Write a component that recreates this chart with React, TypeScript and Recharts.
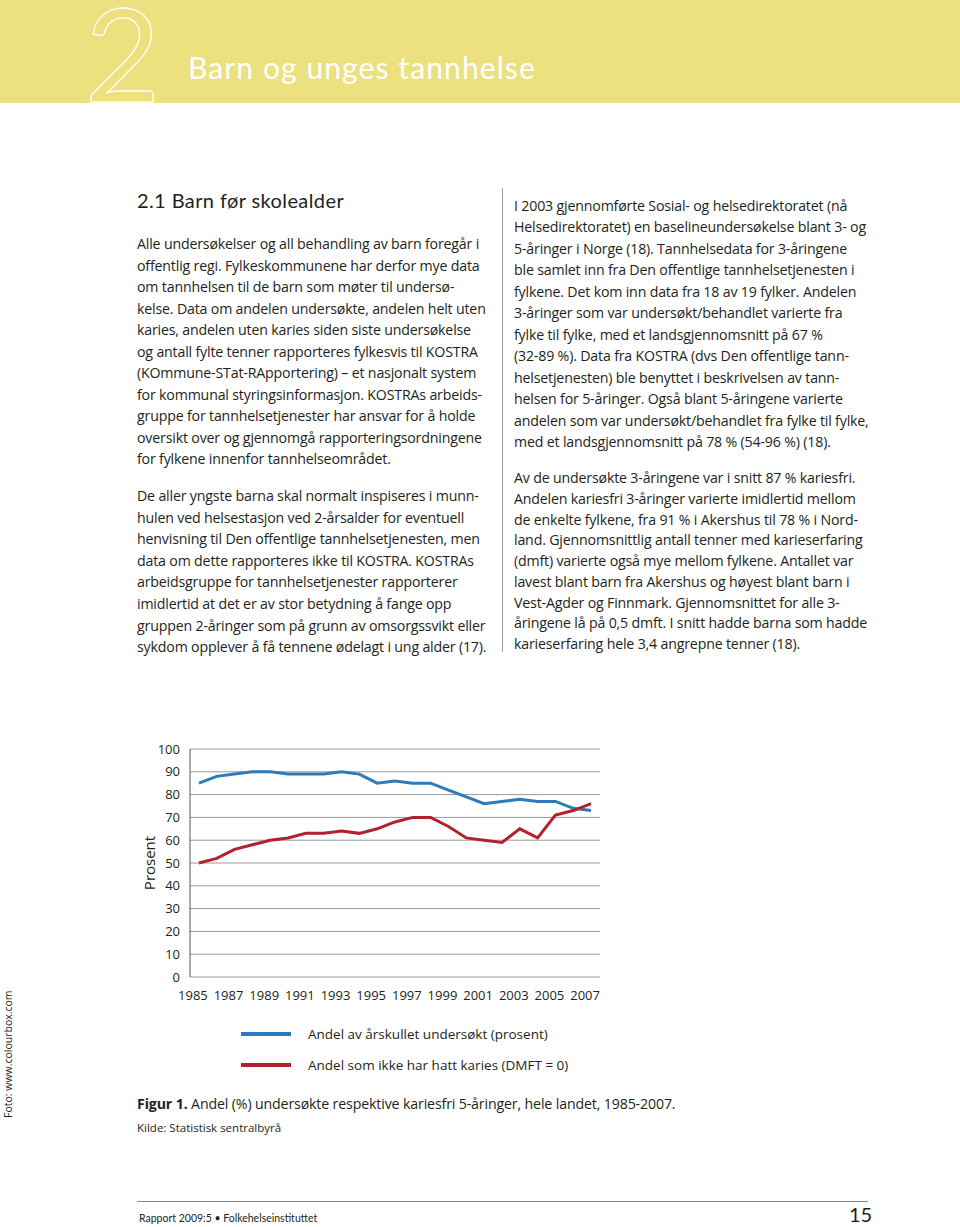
import React from "react";
import { LineChart, Line, XAxis, YAxis, CartesianGrid, Legend } from "recharts";

// Figur 1: Andel (%) undersøkte respektive kariesfri 5-åringer, 1985-2007
const years = [
  1985, 1986, 1987, 1988, 1989, 1990, 1991, 1992, 1993, 1994, 1995, 1996,
  1997, 1998, 1999, 2000, 2001, 2002, 2003, 2004, 2005, 2006, 2007,
];
const examined = [85, 88, 89, 90, 90, 89, 89, 89, 90, 89, 85, 86, 85, 85, 82, 79, 76, 77, 78, 77, 77, 74, 73];
const cariesFree = [50, 52, 56, 58, 60, 61, 63, 63, 64, 63, 65, 68, 70, 70, 66, 61, 60, 59, 65, 61, 71, 73, 76];
const yTicks = [0, 10, 20, 30, 40, 50, 60, 70, 80, 90, 100];
const yearLabels = [1985, 1987, 1989, 1991, 1993, 1995, 1997, 1999, 2001, 2003, 2005, 2007];
const seriesNames = ["Andel av årskullet undersøkt (prosent)", "Andel som ikke har hatt karies (DMFT = 0)"];

const BLUE = "#2b7bbf";
const RED = "#b3202e";
const TEXT = "#231f20";
const BODY = "'Open Sans', 'Noto Sans', sans-serif";
const DISPLAY = "Lato, 'DejaVu Sans', sans-serif";

const leftPara1 = [
  "Alle undersøkelser og all behandling av barn foregår i",
  "offentlig regi. Fylkeskommunene har derfor mye data",
  "om tannhelsen til de barn som møter til undersø-",
  "kelse. Data om andelen undersøkte, andelen helt uten",
  "karies, andelen uten karies siden siste undersøkelse",
  "og antall fylte tenner rapporteres fylkesvis til KOSTRA",
  "(KOmmune-STat-RApportering) – et nasjonalt system",
  "for kommunal styringsinformasjon. KOSTRAs arbeids-",
  "gruppe for tannhelsetjenester har ansvar for å holde",
  "oversikt over og gjennomgå rapporteringsordningene",
  "for fylkene innenfor tannhelseområdet.",
];
const leftPara2 = [
  "De aller yngste barna skal normalt inspiseres i munn-",
  "hulen ved helsestasjon ved 2-årsalder for eventuell",
  "henvisning til Den offentlige tannhelsetjenesten, men",
  "data om dette rapporteres ikke til KOSTRA. KOSTRAs",
  "arbeidsgruppe for tannhelsetjenester rapporterer",
  "imidlertid at det er av stor betydning å fange opp",
  "gruppen 2-åringer som på grunn av omsorgssvikt eller",
  "sykdom opplever å få tennene ødelagt i ung alder (17).",
];
const rightPara1 = [
  "I 2003 gjennomførte Sosial- og helsedirektoratet (nå",
  "Helsedirektoratet) en baselineundersøkelse blant 3- og",
  "5-åringer i Norge (18). Tannhelsedata for 3-åringene",
  "ble samlet inn fra Den offentlige tannhelsetjenesten i",
  "fylkene. Det kom inn data fra 18 av 19 fylker. Andelen",
  "3-åringer som var undersøkt/behandlet varierte fra",
  "fylke til fylke, med et landsgjennomsnitt på 67 %",
  "(32-89 %). Data fra KOSTRA (dvs Den offentlige tann-",
  "helsetjenesten) ble benyttet i beskrivelsen av tann-",
  "helsen for 5-åringer. Også blant 5-åringene varierte",
  "andelen som var undersøkt/behandlet fra fylke til fylke,",
  "med et landsgjennomsnitt på 78 % (54-96 %) (18).",
];
const rightPara2 = [
  "Av de undersøkte 3-åringene var i snitt 87 % kariesfri.",
  "Andelen kariesfri 3-åringer varierte imidlertid mellom",
  "de enkelte fylkene, fra 91 % i Akershus til 78 % i Nord-",
  "land. Gjennomsnittlig antall tenner med karieserfaring",
  "(dmft) varierte også mye mellom fylkene. Antallet var",
  "lavest blant barn fra Akershus og høyest blant barn i",
  "Vest-Agder og Finnmark. Gjennomsnittet for alle 3-",
  "åringene lå på 0,5 dmft. I snitt hadde barna som hadde",
  "karieserfaring hele 3,4 angrepne tenner (18).",
];

function Para({ lines, left, top, lh }: { lines: string[]; left: number; top: number; lh: number }) {
  return (
    <div style={{ position: "absolute", left, top, fontFamily: BODY, fontSize: 14.2, lineHeight: `${lh}px`, color: TEXT, whiteSpace: "nowrap", letterSpacing: -0.18 }}>
      {lines.map((l, i) => (
        <div key={i}>{l}</div>
      ))}
    </div>
  );
}

function LegendBox() {
  const colors = [BLUE, RED];
  return (
    <div style={{ fontFamily: BODY, fontSize: 13.5, color: TEXT }}>
      {seriesNames.map((n, i) => (
        <div key={n} style={{ display: "flex", alignItems: "center", height: 31 }}>
          <div style={{ width: 50, height: 4, background: colors[i], marginRight: 17 }} />
          <span style={{ whiteSpace: "nowrap" }}>{n}</span>
        </div>
      ))}
    </div>
  );
}

const tickMarks = [1984.5, ...years.map((y) => y + 0.5)];

export default function App() {
  const data = years.map((y, i) => ({ year: y, examined: examined[i], cariesFree: cariesFree[i] }));

  return (
    <div style={{ position: "absolute", left: 0, top: 0, width: 960, height: 1227, background: "#fff", overflow: "hidden" }}>
      {/* header band */}
      <div style={{ position: "absolute", left: 0, top: 0, width: 960, height: 103, background: "#ece17e" }} />
      <svg style={{ position: "absolute", left: 0, top: 0 }} width={200} height={106}>
        <text x={85} y={102} fontFamily={DISPLAY} fontSize={130} fill="none" stroke="#fff" strokeWidth={1.3}>
          2
        </text>
      </svg>
      <div style={{ position: "absolute", left: 188, top: 49, fontFamily: DISPLAY, fontSize: 30, color: "#fff", letterSpacing: 1.1 }}>
        Barn og unges tannhelse
      </div>

      <div style={{ position: "absolute", left: 137, top: 188, fontFamily: DISPLAY, fontSize: 20, color: TEXT, letterSpacing: 0.4 }}>
        2.1 Barn før skolealder
      </div>

      <Para lines={leftPara1} left={137} top={233} lh={21.5} />
      <Para lines={leftPara2} left={137} top={485} lh={21.6} />
      <Para lines={rightPara1} left={514} top={195} lh={21.45} />
      <Para lines={rightPara2} left={514} top={468} lh={20.75} />
      <div style={{ position: "absolute", left: 502, top: 188, width: 1, height: 464, background: "#9a9a9a" }} />

      {/* chart */}
      <div style={{ position: "absolute", left: 130, top: 740 }}>
        <LineChart width={480} height={345} data={data} margin={{ top: 9, right: 10, bottom: 78, left: 0 }}>
          <CartesianGrid horizontal vertical={false} stroke="#9a9a9a" strokeWidth={1} />
          <XAxis
            dataKey="year"
            type="number"
            domain={[1984.5, 2007.5]}
            ticks={tickMarks}
            tickFormatter={() => ""}
            height={0}
            mirror
            tickSize={8}
            tickLine={{ stroke: "#555" }}
            axisLine={{ stroke: "#555" }}
            interval={0}
          />
          <XAxis
            xAxisId="lab"
            dataKey="year"
            type="number"
            domain={[1984.5, 2007.5]}
            ticks={yearLabels}
            height={30}
            axisLine={false}
            tickLine={false}
            interval={0}
            tick={{ fontSize: 13, fill: TEXT, fontFamily: BODY, dx: -6, dy: 6 }}
          />
          <YAxis
            width={60}
            domain={[0, 100]}
            ticks={yTicks}
            interval={0}
            tickLine={false}
            axisLine={{ stroke: "#555" }}
            tick={{ fontSize: 13, fill: TEXT, fontFamily: BODY }}
            tickMargin={4}
            label={{ value: "Prosent", angle: -90, position: "center", dx: -10, style: { fontSize: 15, fill: TEXT, fontFamily: BODY } }}
          />
          <Line type="linear" dataKey="examined" name={seriesNames[0]} stroke={BLUE} strokeWidth={3} dot={false} isAnimationActive={false} />
          <Line type="linear" dataKey="cariesFree" name={seriesNames[1]} stroke={RED} strokeWidth={3} dot={false} isAnimationActive={false} />
          <Legend
            layout="vertical"
            align="center"
            verticalAlign="middle"
            content={() => <LegendBox />}
            wrapperStyle={{ top: 278, left: 111, width: 360 }}
          />
        </LineChart>
      </div>

      <div style={{ position: "absolute", left: 137, top: 1094, fontFamily: BODY, fontSize: 14.2, color: TEXT, whiteSpace: "nowrap", letterSpacing: -0.15 }}>
        <b>Figur 1.</b> Andel (%) undersøkte respektive kariesfri 5-åringer, hele landet, 1985-2007.
      </div>
      <div style={{ position: "absolute", left: 137, top: 1120, fontFamily: BODY, fontSize: 11.5, color: TEXT, whiteSpace: "nowrap" }}>
        Kilde: Statistisk sentralbyrå
      </div>

      <div
        style={{ position: "absolute", left: 1, top: 1118, transformOrigin: "0 0", transform: "rotate(-90deg)", fontFamily: BODY, fontSize: 10.5, color: TEXT, whiteSpace: "nowrap", lineHeight: "14px" }}
      >
        Foto: www.colourbox.com
      </div>

      {/* footer */}
      <div style={{ position: "absolute", left: 137, top: 1201, width: 731, height: 1, background: "#8a8a8a" }} />
      <div style={{ position: "absolute", left: 139, top: 1212, fontFamily: DISPLAY, fontSize: 10.5, color: TEXT, whiteSpace: "nowrap" }}>
        Rapport 2009:5 • Folkehelseinstituttet
      </div>
      <div style={{ position: "absolute", left: 849, top: 1203, fontFamily: DISPLAY, fontSize: 20, lineHeight: "22px", color: TEXT }}>15</div>
    </div>
  );
}
